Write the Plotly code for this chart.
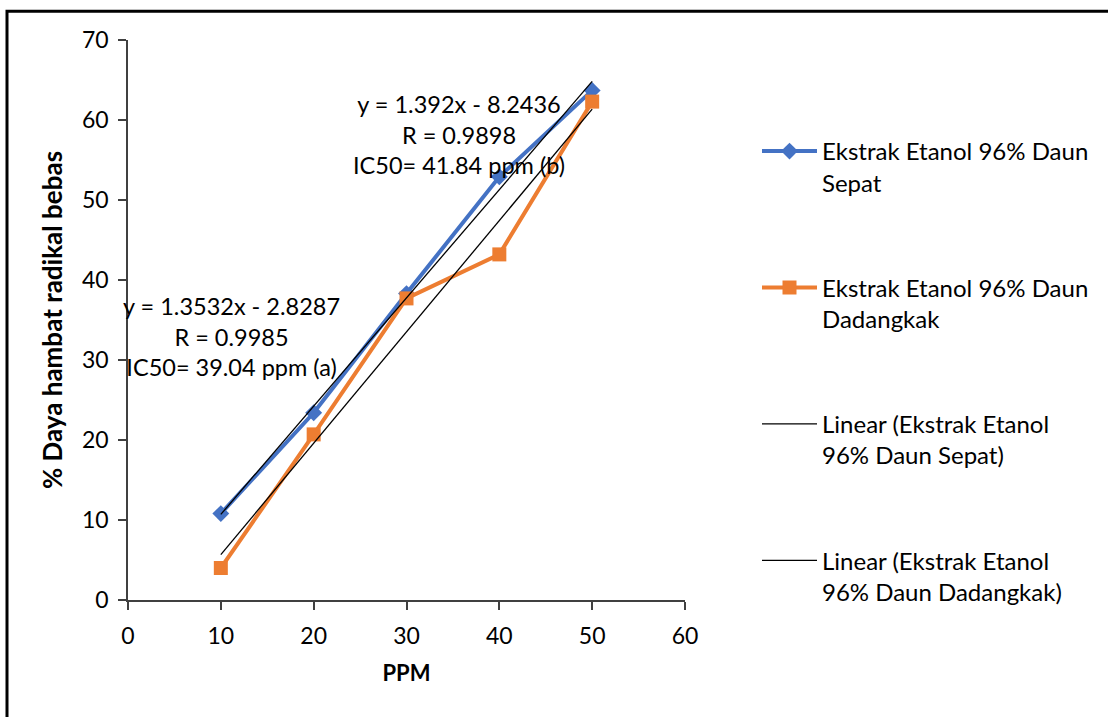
import plotly.graph_objects as go

# ---- data ----
ppm = [10, 20, 30, 40, 50]
sepat = [10.8, 23.4, 38.3, 52.9, 63.7]
dadangkak = [4.0, 20.7, 37.7, 43.2, 62.3]

slope_sepat, intercept_sepat = 1.3532, -2.8287
slope_dadangkak, intercept_dadangkak = 1.392, -8.2436
trend_x = [10, 50]

name_sepat = "Ekstrak Etanol 96% Daun<br>Sepat"
name_dadangkak = "Ekstrak Etanol 96% Daun<br>Dadangkak"
name_lin_sepat = "Linear (Ekstrak Etanol<br>96% Daun Sepat)"
name_lin_dadangkak = "Linear (Ekstrak Etanol<br>96% Daun Dadangkak)"

eq_sepat = "y = 1.3532x - 2.8287<br>R = 0.9985<br>IC50= 39.04 ppm (a)"
eq_dadangkak = "y = 1.392x - 8.2436<br>R = 0.9898<br>IC50= 41.84 ppm (b)"

x_ticks = [0, 10, 20, 30, 40, 50, 60]
y_ticks = [0, 10, 20, 30, 40, 50, 60, 70]

FONT = "Lato"
BLUE = "#4472C4"
ORANGE = "#ED7D31"

W, H = 1108, 717
L, R, T, B = 128, 1108 - 685, 40, 717 - 600

fig = go.Figure()

fig.add_trace(go.Scatter(
    x=ppm, y=sepat, mode="lines+markers", name=name_sepat, legendgroup="a",
    line=dict(color=BLUE, width=4),
    marker=dict(symbol="diamond", size=13, color=BLUE),
))
fig.add_trace(go.Scatter(
    x=ppm, y=dadangkak, mode="lines+markers", name=name_dadangkak, legendgroup="b",
    line=dict(color=ORANGE, width=4),
    marker=dict(symbol="square", size=14, color=ORANGE),
))
fig.add_trace(go.Scatter(
    x=trend_x, y=[slope_sepat * v + intercept_sepat for v in trend_x],
    mode="lines", name=name_lin_sepat, legendgroup="c",
    line=dict(color="black", width=1.3),
))
fig.add_trace(go.Scatter(
    x=trend_x, y=[slope_dadangkak * v + intercept_dadangkak for v in trend_x],
    mode="lines", name=name_lin_dadangkak, legendgroup="d",
    line=dict(color="black", width=1.3),
))

# equation labels
fig.add_annotation(x=11.2, y=33.0, xref="x", yref="y", text=eq_sepat,
                   showarrow=False, align="center",
                   font=dict(family=FONT, size=23.5, color="black"))
fig.add_annotation(x=35.7, y=58.2, xref="x", yref="y", text=eq_dadangkak,
                   showarrow=False, align="center",
                   font=dict(family=FONT, size=23.5, color="black"))

# outer frame
def px_x(p):
    return (p - L) / (W - L - R)

def px_y(p):
    return 1 - (p - T) / (H - T - B)

fig.add_shape(type="rect", xref="paper", yref="paper",
              x0=px_x(7), x1=px_x(W + 20), y0=px_y(H + 20), y1=px_y(11.3),
              line=dict(color="black", width=3), fillcolor="rgba(0,0,0,0)",
              layer="above")

fig.update_layout(
    width=W, height=H,
    margin=dict(l=L, r=R, t=T, b=B),
    paper_bgcolor="white", plot_bgcolor="white",
    font=dict(family=FONT, size=23, color="black"),
    showlegend=True,
    legend=dict(
        x=px_x(757), y=px_y(129), xanchor="left", yanchor="top",
        traceorder="grouped", tracegroupgap=71, valign="top",
        itemwidth=55,
        font=dict(family=FONT, size=24, color="black"),
        bgcolor="rgba(0,0,0,0)",
    ),
    xaxis=dict(
        range=[0, 60], tickvals=x_ticks, ticktext=[str(v) for v in x_ticks],
        showgrid=False, zeroline=False, showline=True, linecolor="#404040", linewidth=1.5,
        ticks="outside", ticklen=8, tickcolor="#404040", tickwidth=1.5,
        ticklabelstandoff=7,
        tickfont=dict(family=FONT, size=23, color="black"),
        title=dict(text="<b>PPM</b>", font=dict(family=FONT, size=22, color="black"), standoff=17),
        automargin=False,
    ),
    yaxis=dict(
        range=[0, 70], tickvals=y_ticks, ticktext=[str(v) for v in y_ticks],
        showgrid=False, zeroline=False, showline=True, linecolor="#404040", linewidth=1.5,
        ticks="outside", ticklen=8, tickcolor="#404040", tickwidth=1.5,
        ticklabelstandoff=5,
        tickfont=dict(family=FONT, size=23, color="black"),
        title=dict(text="<b>% Daya hambat radikal bebas</b>", font=dict(family=FONT, size=26, color="black"), standoff=12),
        automargin=False,
    ),
)

fig.write_html("out.html", config={"displayModeBar": False},
               post_script="document.body.style.margin='0';")
